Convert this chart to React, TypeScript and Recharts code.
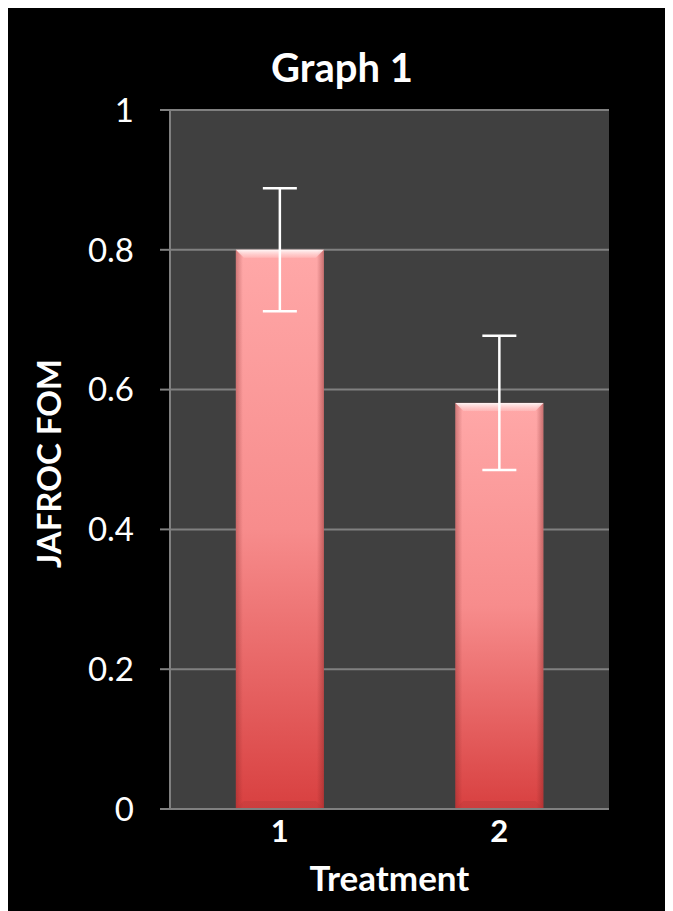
import React from "react"
import { Bar, BarChart, CartesianGrid, ErrorBar, XAxis, YAxis } from "recharts"

const treatments = ["1", "2"]
const fomValues = [0.8, 0.581]
const fomErrors = [0.088, 0.096]
const yTicks = [0, 0.2, 0.4, 0.6, 0.8, 1]

const data = treatments.map((t, i) => ({ treatment: t, fom: fomValues[i], err: fomErrors[i] }))

const FONT = "Lato, 'Open Sans', sans-serif"

// bevelled pink bar, roughly like the office "gel" look
function BevelBar(props: any) {
  const { x, y, width, height } = props
  if (!height || height <= 0) return null
  const b = 8
  return (
    <g>
      <rect x={x} y={y} width={width} height={height} fill="url(#barFill)" />
      <rect x={x} y={y} width={width} height={height} fill="url(#barSides)" />
      <polygon
        points={`${x},${y} ${x + width},${y} ${x + width - b},${y + b} ${x + b},${y + b}`}
        fill="url(#barTop)"
      />
      <polygon
        points={`${x},${y + height} ${x + width},${y + height} ${x + width - b},${y + height - b} ${x + b},${y + height - b}`}
        fill="#b83838"
        opacity={0.35}
      />
    </g>
  )
}

function YLabel(props: any) {
  const { viewBox } = props
  const cx = 40
  const cy = viewBox.y + viewBox.height / 2 + 4
  return (
    <text
      x={cx}
      y={cy}
      transform={`rotate(-90 ${cx} ${cy})`}
      textAnchor="middle"
      dominantBaseline="central"
      fill="#fff"
      fontFamily={FONT}
      fontWeight={700}
      fontSize={33}
    >
      JAFROC FOM
    </text>
  )
}

export default function App() {
  return (
    <div style={{ position: "relative", width: 665, height: 906, marginTop: -3, background: "#000" }}>
      <div
        style={{
          position: "absolute",
          left: 0,
          top: 42,
          width: 668,
          textAlign: "center",
          color: "#fff",
          fontFamily: FONT,
          fontWeight: 700,
          fontSize: 40,
          lineHeight: "40px",
        }}
      >
        Graph 1
      </div>
      <BarChart
        width={665}
        height={906}
        data={data}
        margin={{ top: 105, right: 64, left: 0, bottom: 0 }}
        barCategoryGap="30%"
      >
        <defs>
          <linearGradient id="barFill" x1="0" y1="0" x2="0" y2="1">
            <stop offset="0%" stopColor="#ffa8a8" />
            <stop offset="50%" stopColor="#f78c8c" />
            <stop offset="100%" stopColor="#d84040" />
          </linearGradient>
          <linearGradient id="barSides" x1="0" y1="0" x2="1" y2="0">
            <stop offset="0%" stopColor="#7a1f1f" stopOpacity={0.35} />
            <stop offset="8%" stopColor="#7a1f1f" stopOpacity={0} />
            <stop offset="92%" stopColor="#7a1f1f" stopOpacity={0} />
            <stop offset="100%" stopColor="#7a1f1f" stopOpacity={0.4} />
          </linearGradient>
          <linearGradient id="barTop" x1="0" y1="0" x2="0" y2="1">
            <stop offset="0%" stopColor="#ffffff" stopOpacity={0.9} />
            <stop offset="100%" stopColor="#ffd0d0" stopOpacity={0.4} />
          </linearGradient>
        </defs>
        <CartesianGrid fill="#404040" stroke="#808080" strokeWidth={2} vertical={false} />
        <XAxis
          dataKey="treatment"
          axisLine={{ stroke: "#808080", strokeWidth: 2 }}
          tickLine={false}
          tickSize={0}
          tickMargin={11}
          height={102}
          tick={{ fill: "#fff", fontFamily: FONT, fontWeight: 700, fontSize: 31 }}
          label={{
            value: "Treatment",
            position: "insideBottom",
            offset: 20,
            fill: "#fff",
            fontFamily: FONT,
            fontWeight: 700,
            fontSize: 35,
          }}
        />
        <YAxis
          domain={[0, 1]}
          ticks={yTicks}
          width={162}
          axisLine={{ stroke: "#808080", strokeWidth: 2 }}
          tickLine={{ stroke: "#808080", strokeWidth: 2 }}
          tickSize={10}
          tickMargin={26}
          tick={{ fill: "#fff", fontFamily: FONT, fontSize: 33 }}
          label={<YLabel />}
        />
        <Bar dataKey="fom" shape={<BevelBar />} isAnimationActive={false}>
          <ErrorBar dataKey="err" width={17} stroke="#fff" strokeWidth={2.5} direction="y" />
        </Bar>
      </BarChart>
    </div>
  )
}
